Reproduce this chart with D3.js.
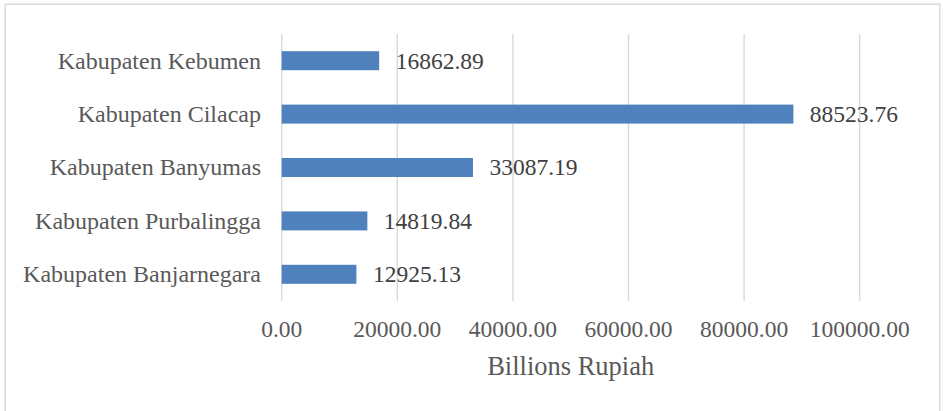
<!DOCTYPE html>
<html>
<head>
<meta charset="utf-8">
<script src="https://cdn.jsdelivr.net/npm/d3@7/dist/d3.min.js"></script>
<style>
  html, body { margin: 0; padding: 0; background: #ffffff; }
  svg { display: block; }
  text { font-family: "Liberation Serif", "Times New Roman", serif; }
</style>
</head>
<body>
<svg id="chart" width="943" height="411"></svg>
<script>
// Regencies, listed top to bottom
const categories = [
  "Kabupaten Kebumen",
  "Kabupaten Cilacap",
  "Kabupaten Banyumas",
  "Kabupaten Purbalingga",
  "Kabupaten Banjarnegara"
];
// Values in billions of rupiah
const values = [16862.89, 88523.76, 33087.19, 14819.84, 12925.13];
const xTicks = [0, 20000, 40000, 60000, 80000, 100000];
const axisTitle = "Billions Rupiah";

const svg = d3.select("#chart");
const plot = { left: 281.7, right: 859.7, top: 34, bottom: 301 };

// Outer chart frame
svg.append("rect")
  .attr("x", 5.25).attr("y", 4.25)
  .attr("width", 934.5).attr("height", 420)
  .attr("fill", "#ffffff")
  .attr("stroke", "#d9d9d9").attr("stroke-width", 1.5);

const x = d3.scaleLinear().domain([0, 100000]).range([plot.left, plot.right]);
const barFrac = 19 / ((plot.bottom - plot.top) / categories.length);
const y = d3.scaleBand()
  .domain(categories)
  .range([plot.top, plot.bottom])
  .paddingInner(1 - barFrac)
  .paddingOuter((1 - barFrac) / 2);

// Vertical gridlines
svg.append("g").selectAll("line")
  .data(xTicks)
  .join("line")
  .attr("x1", d => x(d)).attr("x2", d => x(d))
  .attr("y1", plot.top).attr("y2", plot.bottom)
  .attr("stroke", "#d9d9d9").attr("stroke-width", 1.4);

// Bars
svg.append("g").selectAll("rect")
  .data(categories.map((c, i) => ({ c, v: values[i] })))
  .join("rect")
  .attr("x", x(0))
  .attr("y", d => y(d.c))
  .attr("width", d => x(d.v) - x(0))
  .attr("height", y.bandwidth())
  .attr("fill", "#4f81bd");

// Value labels
svg.append("g").selectAll("text")
  .data(categories.map((c, i) => ({ c, v: values[i] })))
  .join("text")
  .attr("x", d => x(d.v) + 16.5)
  .attr("y", d => y(d.c) + y.bandwidth() / 2)
  .attr("dy", "0.34em")
  .attr("font-size", "23.5px")
  .attr("fill", "#404040")
  .text(d => d.v.toFixed(2));

// Category labels
svg.append("g").selectAll("text")
  .data(categories)
  .join("text")
  .attr("x", 261)
  .attr("y", d => y(d) + y.bandwidth() / 2)
  .attr("dy", "0.33em")
  .attr("text-anchor", "end")
  .attr("font-size", "24px")
  .attr("fill", "#595959")
  .text(d => d);

// X tick labels
svg.append("g").selectAll("text")
  .data(xTicks)
  .join("text")
  .attr("x", d => x(d))
  .attr("y", 337.3)
  .attr("text-anchor", "middle")
  .attr("font-size", "23.5px")
  .attr("fill", "#595959")
  .text(d => d3.format(".2f")(d));

// Axis title
svg.append("text")
  .attr("x", (plot.left + plot.right) / 2)
  .attr("y", 375)
  .attr("text-anchor", "middle")
  .attr("font-size", "26.5px")
  .attr("fill", "#595959")
  .text(axisTitle);
</script>
</body>
</html>
